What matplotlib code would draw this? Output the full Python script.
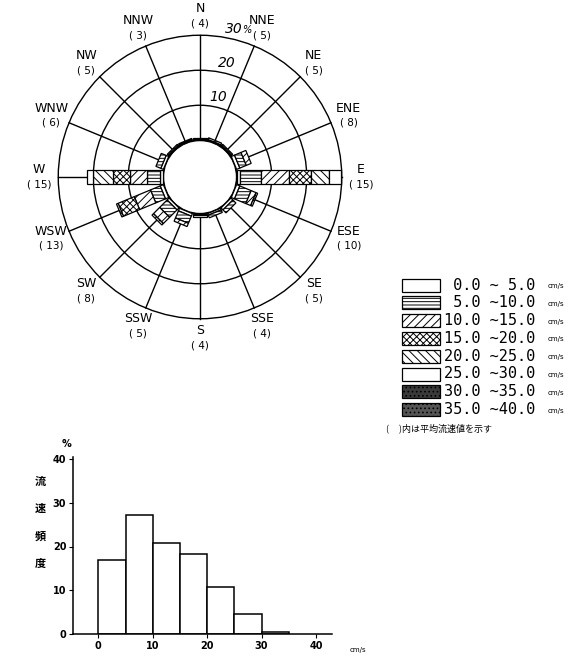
import numpy as np
import matplotlib.pyplot as plt
from matplotlib.patches import Polygon, Circle, Rectangle

plt.rcParams['font.family'] = ['DejaVu Sans', 'Noto Sans CJK JP']
plt.rcParams['hatch.linewidth'] = 0.7

### data
directions = ['N', 'NNE', 'NE', 'ENE', 'E', 'ESE', 'SE', 'SSE',
              'S', 'SSW', 'SW', 'WSW', 'W', 'WNW', 'NW', 'NNW']
mean_speed = [4, 5, 5, 8, 15, 10, 5, 4, 4, 5, 8, 13, 15, 6, 5, 3]

# frequency (%) of each speed class, per direction
s0_5   = [0.3, 0.3, 0.3, 1.0, 1.0, 1.0, 0.8, 0.5, 0.4, 0.8, 0.8, 1.0, 1.0, 0.8, 0.3, 0.3]
s5_10  = [0.4, 0.5, 0.4, 2.0, 6.0, 3.5, 1.2, 0.8, 0.5, 2.2, 3.0, 3.0, 3.7, 1.5, 0.4, 0.3]
s10_15 = [0, 0, 0, 1.5, 7.8, 1.5, 0, 0, 0, 1.0, 2.5, 5.0, 4.9, 0, 0, 0]
s15_20 = [0, 0, 0, 0, 6.5, 0.5, 0, 0, 0, 0, 0.6, 5.0, 4.9, 0, 0, 0]
s20_25 = [0, 0, 0, 0, 5.0, 0, 0, 0, 0, 0, 0, 0.5, 5.7, 0, 0, 0]
s25_30 = [0, 0, 0, 0, 3.4, 0, 0, 0, 0, 0, 0, 0, 1.7, 0, 0, 0]
s30_35 = [0] * 16
s35_40 = [0] * 16

class_lo = [0, 5, 10, 15, 20, 25, 30, 35]
class_hi = [5, 10, 15, 20, 25, 30, 35, 40]

# speed histogram (%)
hist_edges = [0, 5, 10, 15, 20, 25, 30]
hist_freq = [17.0, 27.2, 20.9, 18.4, 10.7, 4.6, 0.6]

freq = np.array([s0_5, s5_10, s10_15, s15_20, s20_25, s25_30, s30_35, s35_40])
hatches = ['', '-----', '////', 'xxxxx', '\\\\\\\\', '', '....', '....']
faces = ['white', 'white', 'white', 'white', 'white', 'white', '#3a3a3a', '#555555']

fig = plt.figure(figsize=(5.82, 6.58), dpi=100)

### wind rose
px = 3.5          # pixels per percent
cx, cy = 200, 177
ax = fig.add_axes([0, 1 - 360/658, 400/582, 360/658])
ax.set_xlim(-cx/px, (400 - cx)/px)
ax.set_ylim(-(360 - cy)/px, cy/px)
ax.axis('off')

R0 = 10.5   # calm circle
hw = 2.0    # half width of bars
bearings = np.deg2rad(np.arange(16) * 22.5)

for k in (1, 2, 3):
    ax.add_patch(Circle((0, 0), R0 + 10*k, fill=False, ec='k', lw=1.0, zorder=1))
for b in bearings:
    ax.plot([R0*np.sin(b), (R0 + 30)*np.sin(b)], [R0*np.cos(b), (R0 + 30)*np.cos(b)],
            color='k', lw=1.0, zorder=1)
ax.add_patch(Circle((0, 0), R0, fc='white', ec='k', lw=1.3, zorder=3))

for j, b in enumerate(bearings):
    u = np.array([np.sin(b), np.cos(b)])
    n = np.array([np.cos(b), -np.sin(b)])
    r = R0
    for i in range(len(class_lo)):
        f = freq[i, j]
        if f <= 0:
            continue
        r2 = r + f
        pts = [r*u + hw*n, r2*u + hw*n, r2*u - hw*n, r*u - hw*n]
        ax.add_patch(Polygon(pts, closed=True, fc=faces[i], ec='k', lw=0.9,
                             hatch=hatches[i], zorder=4))
        r = r2

# direction names and mean speeds
rl = 46
for j, b in enumerate(bearings):
    x, y = rl*np.sin(b), rl*np.cos(b)
    ax.text(x, y + 2.1, directions[j], ha='center', va='center', fontsize=9)
    ax.text(x, y - 2.1, '( %d)' % mean_speed[j], ha='center', va='center', fontsize=7.5)

# ring labels
bl = np.deg2rad(13)
for k, lab in zip((1, 2, 3), ('10', '20', '30')):
    rr = R0 + 10*k + 3
    ax.text(rr*np.sin(bl), rr*np.cos(bl), lab, ha='center', va='center',
            fontsize=10, style='italic')
rr = R0 + 33
ax.text(rr*np.sin(bl) + 3.6, rr*np.cos(bl) - 0.5, '%', ha='center', va='center',
        fontsize=7, style='italic')

### histogram
hx0, hy0 = 98.3, 634.3
sx, sy = 5.44, 4.39
xl = (-4.6, 43.0)
yl = (0, 40.5)
axh = fig.add_axes([(hx0 + xl[0]*sx)/582, (658 - hy0)/658,
                    (xl[1] - xl[0])*sx/582, (yl[1] - yl[0])*sy/658])
axh.bar(hist_edges, hist_freq, width=5, align='edge', color='white',
        edgecolor='k', linewidth=1.1)
axh.set_xlim(*xl)
axh.set_ylim(*yl)
axh.spines['top'].set_visible(False)
axh.spines['right'].set_visible(False)
axh.spines['left'].set_linewidth(1.1)
axh.spines['bottom'].set_linewidth(1.1)
axh.set_xticks([0, 10, 20, 30, 40])
axh.set_yticks([0, 10, 20, 30, 40])
axh.tick_params(labelsize=7, length=3, width=0.8, pad=2)
for t in axh.get_xticklabels() + axh.get_yticklabels():
    t.set_fontweight('bold')

### overlay for legend and notes (pixel coordinates)
ov = fig.add_axes([0, 0, 1, 1])
ov.set_xlim(0, 582)
ov.set_ylim(658, 0)
ov.axis('off')

for i in range(len(class_lo)):
    yc = 285 + i*17.8
    ov.add_patch(Rectangle((402, yc - 6.5), 38, 13, fc=faces[i], ec='k', lw=0.9,
                           hatch=hatches[i]))
    ov.text(444, yc, '%4.1f ~%4.1f' % (class_lo[i], class_hi[i]), va='center',
            ha='left', fontsize=11, family='DejaVu Sans Mono')
    ov.text(548, yc + 1, 'cm/s', va='center', ha='left', fontsize=5)

ov.text(386, 428, '(     )内は平均流速値を示す', va='center', ha='left', fontsize=6.5,
        family=['Noto Sans CJK JP', 'DejaVu Sans'])

ov.text(66, 444, '%', ha='center', va='center', fontsize=7, fontweight='bold')
ov.text(350, 650, 'cm/s', ha='left', va='center', fontsize=5)
for k, ch in enumerate('流速頻度'):
    ov.text(40, 481 + k*27.5, ch, ha='center', va='center', fontsize=8,
            fontweight='bold', family=['Noto Sans CJK JP', 'DejaVu Sans'])

fig.savefig('out.png', dpi=100)
